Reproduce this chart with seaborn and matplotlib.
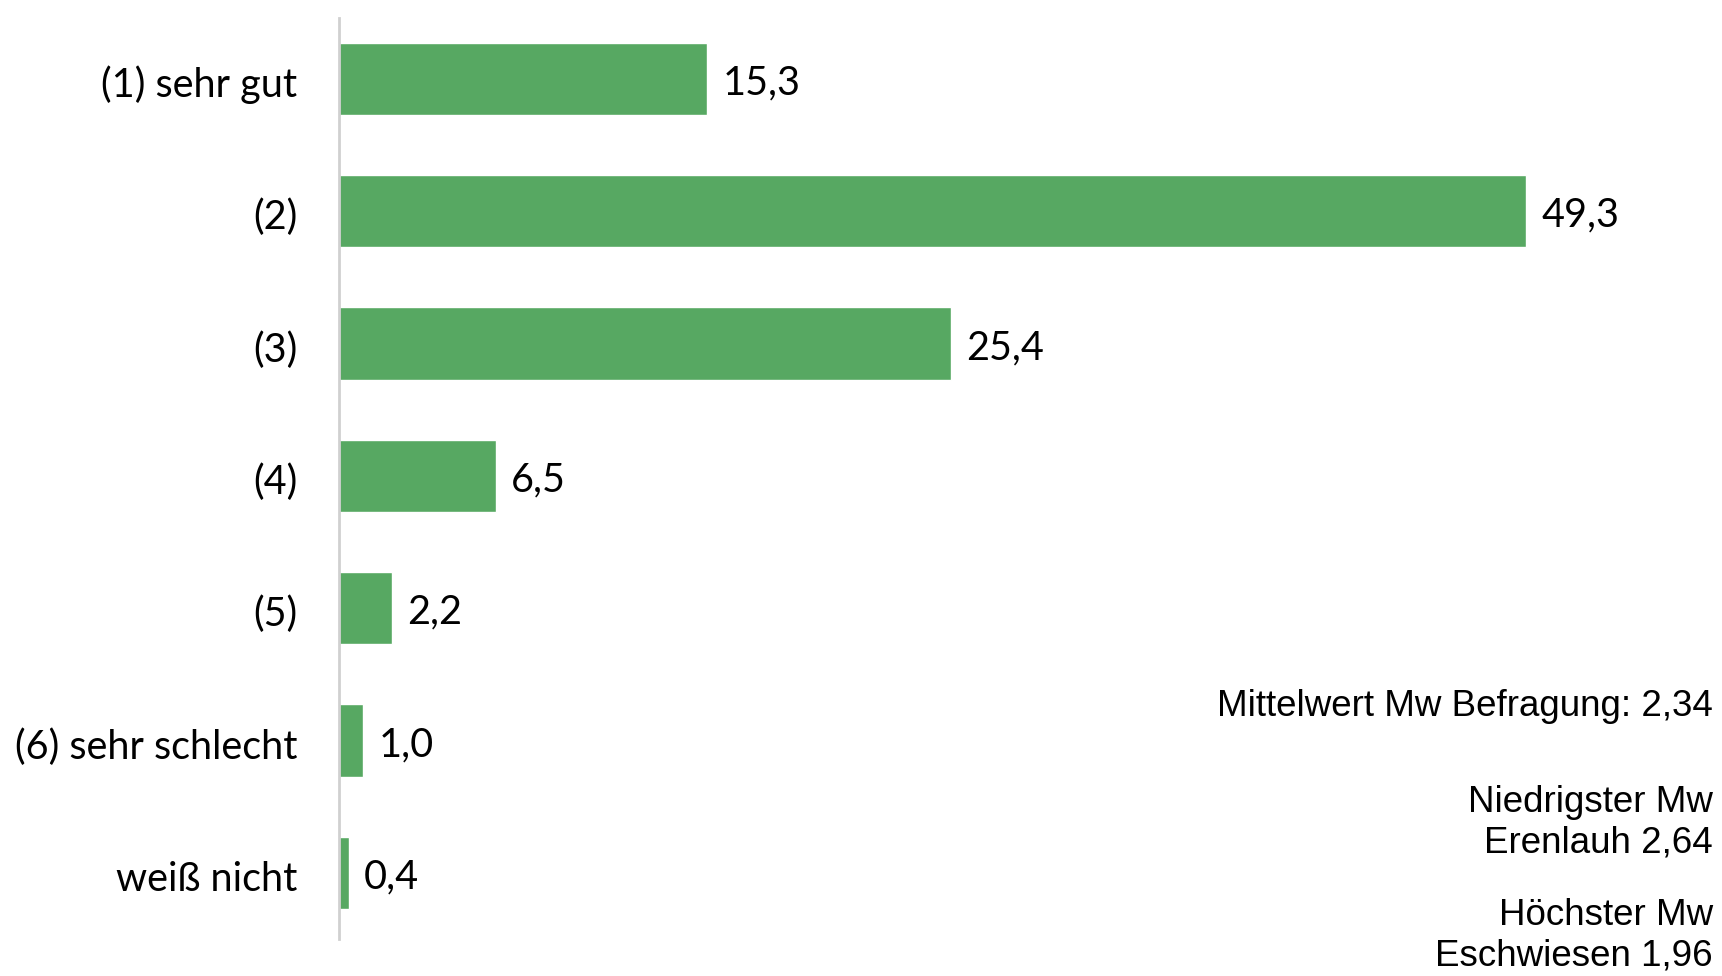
import matplotlib
matplotlib.use("Agg")
import matplotlib.pyplot as plt
import matplotlib.transforms as mtransforms
import seaborn as sns
import pandas as pd

# Data
categories = ["(1) sehr gut", "(2)", "(3)", "(4)", "(5)", "(6) sehr schlecht", "weiß nicht"]
values = [15.3, 49.3, 25.4, 6.5, 2.2, 1.0, 0.4]
value_labels = ["15,3", "49,3", "25,4", "6,5", "2,2", "1,0", "0,4"]
notes = ["Mittelwert Mw Befragung: 2,34",
         "Niedrigster Mw\nErenlauh 2,64",
         "Höchster Mw\nEschwiesen 1,96"]

df = pd.DataFrame({"Kategorie": categories, "Anteil": values})

sns.set_style("white")
plt.rcParams["font.family"] = ["Lato", "DejaVu Sans"]

fig = plt.figure(figsize=(17.22, 9.76), dpi=100)
ax = fig.add_axes([339 / 1722, 0.0379, (1650 - 339) / 1722, 0.9437])

sns.barplot(data=df, x="Anteil", y="Kategorie", color="#57a862",
            width=0.545, orient="h", ax=ax, saturation=1)

ax.set_xlim(0, (1650 - 339) / 24.08)
ax.set_ylim(6.5, -0.46)

# Value labels, nudged a bit down
anns = ax.bar_label(ax.containers[0], labels=value_labels, padding=11,
                    fontsize=28.5, color="black")
for a in anns:
    a.xyann = (11, -3)

# Axes styling
ax.set_xlabel("")
ax.set_ylabel("")
ax.set_xticks([])
ax.tick_params(axis="y", length=0, pad=30, labelsize=28.5, labelcolor="black")
shift = mtransforms.ScaledTranslation(0, -2 / 72, fig.dpi_scale_trans)
for lbl in ax.get_yticklabels():
    lbl.set_transform(lbl.get_transform() + shift)
for side in ["top", "right", "bottom"]:
    ax.spines[side].set_visible(False)
ax.spines["left"].set_color("#d0d0d0")
ax.spines["left"].set_linewidth(2)

# Notes on the right
note_y = [0.2766, 0.1568, 0.041]
for txt, y in zip(notes, note_y):
    fig.text(0.9948, y, txt, ha="right", va="center", color="black",
             fontsize=26.5, family="Liberation Sans", linespacing=1.2,
             multialignment="right")

fig.savefig("out.png", dpi=100)
